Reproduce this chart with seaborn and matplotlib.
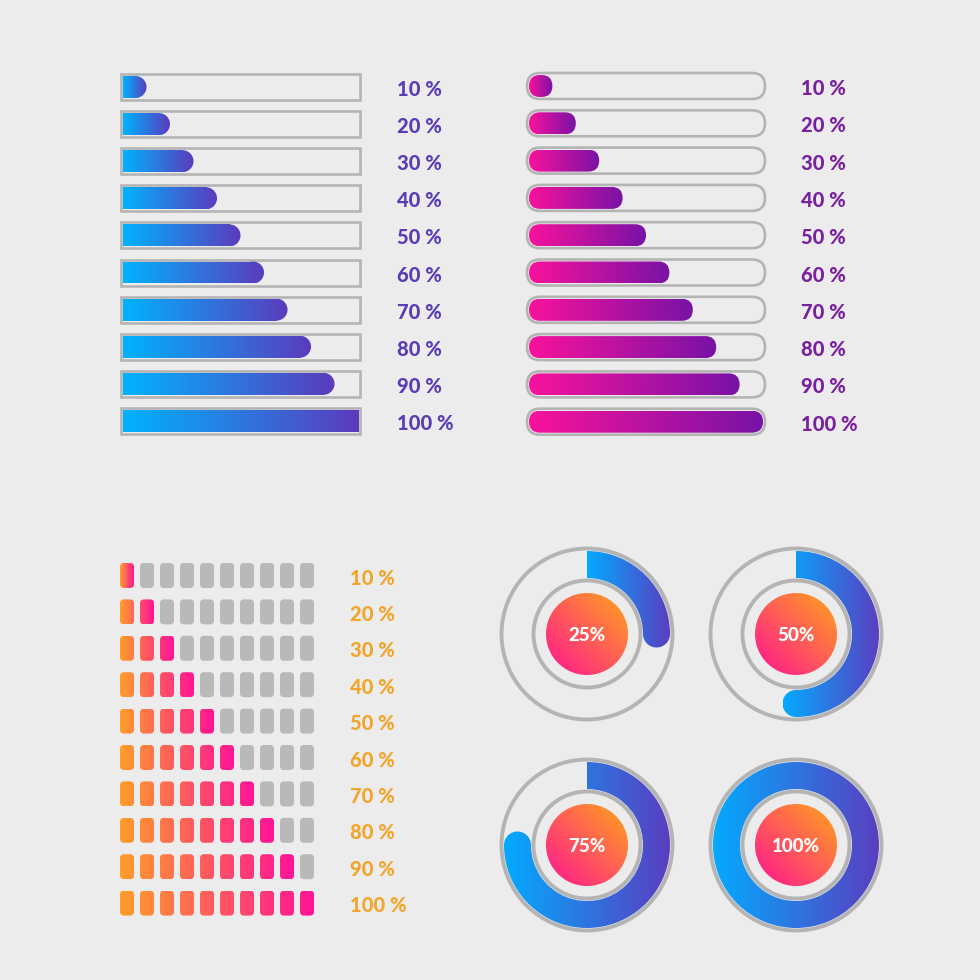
import numpy as np
import matplotlib
matplotlib.use("Agg")
import matplotlib.pyplot as plt
import seaborn as sns
from matplotlib.patches import FancyBboxPatch, Rectangle, Circle, Wedge


# =========================================================
# DATA
# =========================================================
bar_pcts = [10, 20, 30, 40, 50, 60, 70, 80, 90, 100]
bar_labels = ["10 %", "20 %", "30 %", "40 %", "50 %",
              "60 %", "70 %", "80 %", "90 %", "100 %"]

seg_counts = [1, 2, 3, 4, 5, 6, 7, 8, 9, 10]
seg_labels = bar_labels

gauge_pcts = [25, 50, 75, 100]
gauge_labels = ["25%", "50%", "75%", "100%"]


# =========================================================
# STYLE
# =========================================================
BG = "#ececec"
GRAY = "#b4b4b4"
SEG_GRAY = "#b9b9b9"

blue_cmap = sns.blend_palette(["#00b3ff", "#5b3bbd"], as_cmap=True)
pink_cmap = sns.blend_palette(["#f8129c", "#7812a6"], as_cmap=True)
orange_cmap = sns.blend_palette(["#ff9d2a", "#ff1497"], as_cmap=True)
ring_cmap = sns.blend_palette(["#03aaff", "#5a3ec0"], as_cmap=True)
disk_cmap = sns.blend_palette(["#ff1493", "#ffa51b"], as_cmap=True)

sns.set_theme(style="white", rc={"axes.facecolor": BG, "figure.facecolor": BG})
plt.rcParams["font.family"] = ["Lato", "DejaVu Sans"]

fig = plt.figure(figsize=(9.8, 9.8), dpi=100)
ax = fig.add_axes([0, 0, 1, 1])
ax.set_axis_off()

HGRAD = np.linspace(0, 1, 256).reshape(1, -1)
_n = 128
_ii, _jj = np.mgrid[0:_n, 0:_n] / (_n - 1)
DGRAD = (_jj + (1 - _ii)) / 2


def gradient(cmap, x0, x1, y0, y1, clips, data=HGRAD, z=3):
    for clip in clips:
        clip.set_transform(ax.transData)
        im = ax.imshow(data, cmap=cmap, extent=(x0, x1, y1, y0),
                       aspect="auto", interpolation="bilinear",
                       vmin=0, vmax=1, zorder=z)
        im.set_clip_path(clip)


def label(x, y, s, color):
    ax.text(x, y + 2.5, s, color=color, fontsize=14.5,
            fontweight="black", va="center", ha="left")


# =========================================================
# TOP LEFT: square bars
# =========================================================
tl_y0, tl_step = 87, 37.1
for i, p in enumerate(bar_pcts):
    yc = tl_y0 + i * tl_step
    ax.add_patch(Rectangle((121, yc - 13), 239, 26, fc="none",
                           ec=GRAY, lw=1.9, zorder=2))
    x0, W, h = 123, 235, 22
    L = W * p / 100
    r = h / 2
    if p >= 100:
        clips = [Rectangle((x0, yc - r), L, h)]
    else:
        clips = [Rectangle((x0, yc - r), L - r, h), Circle((x0 + L - r, yc), r)]
    gradient(blue_cmap, x0, x0 + L, yc - r, yc + r, clips)
    label(397, yc, bar_labels[i], "#5a3db5")


# =========================================================
# TOP RIGHT: pill bars
# =========================================================
tr_y0, tr_step = 86, 37.3
for i, p in enumerate(bar_pcts):
    yc = tr_y0 + i * tr_step
    ax.add_patch(FancyBboxPatch((527, yc - 13), 238, 26,
                                boxstyle="round,pad=0,rounding_size=13",
                                fc="none", ec=GRAY, lw=1.9, zorder=2))
    x0, W, h = 529, 234, 22
    L = max(W * p / 100, h)
    clips = [FancyBboxPatch((x0, yc - h / 2), L, h,
                            boxstyle="round,pad=0,rounding_size=11")]
    gradient(pink_cmap, x0, x0 + L, yc - h / 2, yc + h / 2, clips)
    label(801, yc, bar_labels[i], "#7a1fa0")


# =========================================================
# BOTTOM LEFT: segmented bars
# =========================================================
bl_y0, bl_step = 575.5, 36.4
for i, n in enumerate(seg_counts):
    yc = bl_y0 + i * bl_step
    x_end = 120 + 20 * (n - 1) + 14
    for j in range(10):
        x = 120 + 20 * j
        box = FancyBboxPatch((x, yc - 12.5), 14, 25,
                             boxstyle="round,pad=0,rounding_size=4")
        if j < n:
            gradient(orange_cmap, 120, x_end, yc - 12.5, yc + 12.5, [box])
        else:
            box.set_facecolor(SEG_GRAY)
            box.set_edgecolor("none")
            box.set_zorder(2)
            ax.add_patch(box)
    label(350, yc, seg_labels[i], "#f2a52a")


# =========================================================
# BOTTOM RIGHT: circular gauges
# =========================================================
centers = [(587, 634), (796, 634), (587, 845), (796, 845)]
r_out, r_in, r_disk = 83, 56, 41
r_mid, cap = (r_out + r_in) / 2, (r_out - r_in) / 2
for (cx, cy), p, lab in zip(centers, gauge_pcts, gauge_labels):
    t1, t2 = -90, -90 + 360 * p / 100
    clips = [Wedge((cx, cy), r_out, t1, t2, width=r_out - r_in)]
    ang = np.radians(t2)
    ex, ey = cx + r_mid * np.cos(ang), cy + r_mid * np.sin(ang)
    if p < 100:
        clips.append(Circle((ex, ey), cap))
    # horizontal extent of the arc
    th = np.radians(np.linspace(t1, t2, 361))
    xs = np.concatenate([cx + r_out * np.cos(th), cx + r_in * np.cos(th),
                         [ex - cap, ex + cap] if p < 100 else []])
    gradient(ring_cmap, xs.min(), xs.max(), cy - r_out, cy + r_out, clips)

    ax.add_patch(Circle((cx, cy), 85.5, fc="none", ec=GRAY, lw=2.8, zorder=5))
    ax.add_patch(Circle((cx, cy), 53.5, fc="none", ec=GRAY, lw=2.8, zorder=5))
    gradient(disk_cmap, cx - r_disk, cx + r_disk, cy - r_disk, cy + r_disk,
             [Circle((cx, cy), r_disk)], data=DGRAD, z=6)
    ax.text(cx, cy + 1, lab, color="white", fontsize=13.5, fontweight="black",
            ha="center", va="center", zorder=7)


ax.set_xlim(0, 980)
ax.set_ylim(980, 0)

fig.savefig("out.png", dpi=100, facecolor=BG)
plt.close(fig)
